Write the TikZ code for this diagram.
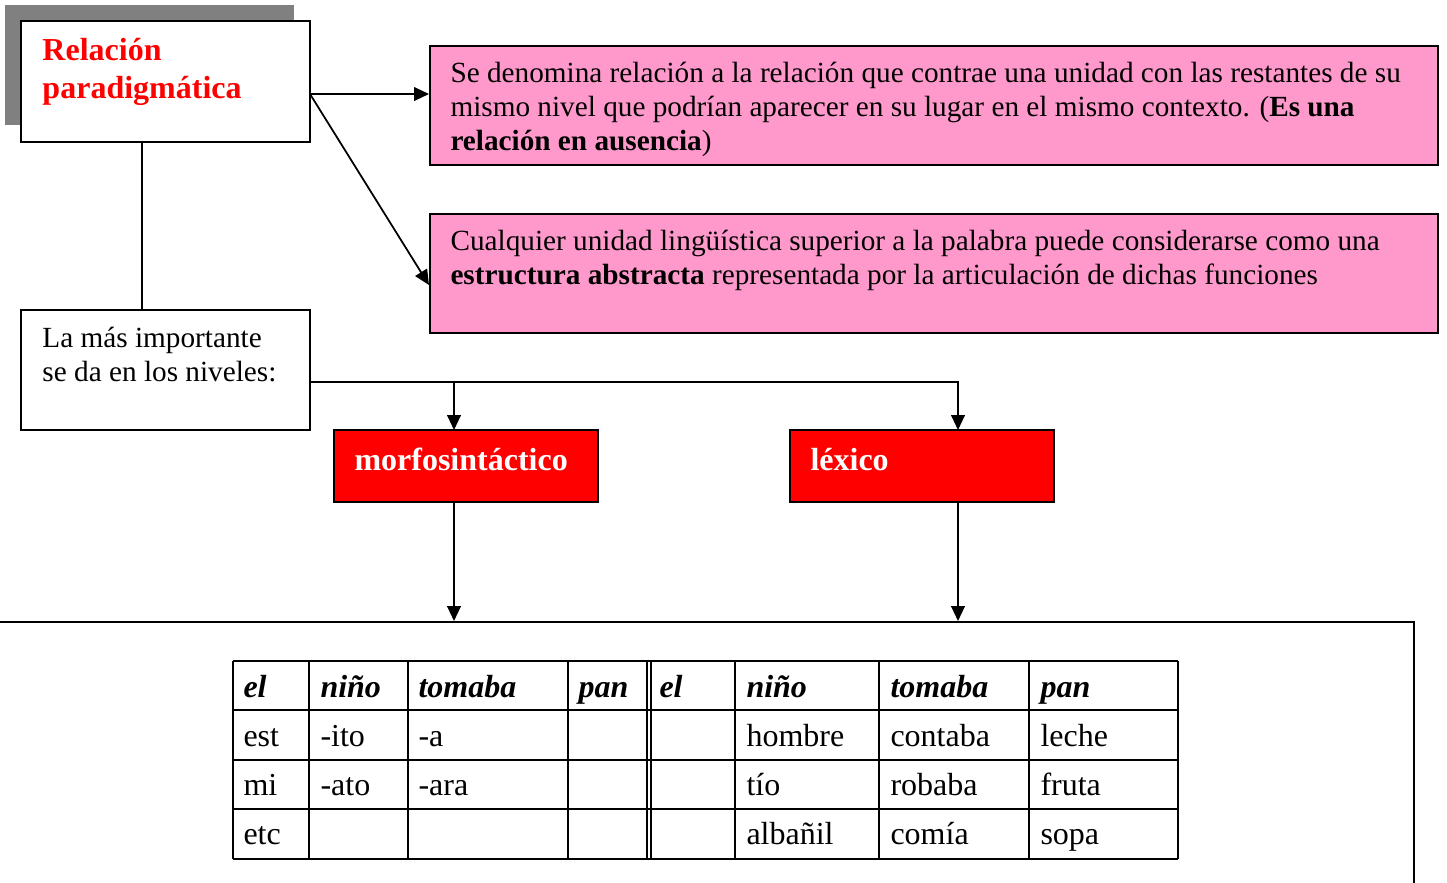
\documentclass[tikz,border=0pt]{standalone}
\usepackage{fontspec}
\setmainfont{Liberation Serif}
\usetikzlibrary{arrows.meta,fit,calc}
\definecolor{pinkbox}{HTML}{FF99CC}
\definecolor{redbox}{HTML}{FF0000}
\definecolor{shadowgray}{HTML}{808080}
\begin{document}
\begin{tikzpicture}[x=0.4pt,y=-0.4pt,
  box/.style={draw=black, line width=0.8pt, inner sep=0pt},
  conn/.style={line width=0.7pt},
  arr/.style={conn,-{Triangle[length=6pt,width=5.5pt]}},
  txt/.style={anchor=base west, inner sep=0pt, align=left, font=\fontsize{11.7}{13.6}\selectfont},
  titletxt/.style={anchor=base west, inner sep=0pt, align=left, text=redbox, font=\fontsize{12.8}{15.2}\selectfont\bfseries},
  lvltxt/.style={anchor=base west, inner sep=0pt, text=white, font=\fontsize{12.8}{15}\selectfont\bfseries},
  cell/.style={anchor=base west, inner sep=0pt, font=\fontsize{12.8}{15}\selectfont},
  headcell/.style={cell, font=\fontsize{12.8}{15}\selectfont\bfseries\itshape},
  tline/.style={line width=0.8pt}]
\useasboundingbox (0,0) rectangle (1447,882);

% shadow and title box
\node[fill=shadowgray, inner sep=0pt, fit={(5,5) (294,125)}] (shadow) {};
\node[box, fill=white, fit={(21,21) (310,142)}] (title) {};
% anchor base west of a multi-line node = last line's baseline
\node[titletxt] (titlet) at (42,98) {Relación\\paradigmática};

% definition boxes
\node[box, fill=pinkbox, fit={(430,46) (1438,165)}] (def1) {};
\node[txt] (def1t) at (450,150) {Se denomina relación a la relación que contrae una unidad con las restantes de su\\mismo nivel que podrían aparecer en su lugar en el mismo contexto. (\textbf{Es una}\\\textbf{relación en ausencia})};
\node[box, fill=pinkbox, fit={(430,214) (1438,333)}] (def2) {};
\node[txt] (def2t) at (450,284) {Cualquier unidad lingüística superior a la palabra puede considerarse como una\\\textbf{estructura abstracta} representada por la articulación de dichas funciones};

% levels box
\node[box, fill=white, fit={(21,310) (310,430)}] (lvl) {};
\node[txt] (lvlt) at (42,381) {La más importante\\se da en los niveles:};

% red boxes
\node[box, fill=redbox, fit={(334,430) (598,502)}] (morfo) {};
\node[lvltxt] (morfot) at (354,470) {morfosintáctico};
\node[box, fill=redbox, fit={(790,430) (1054,502)}] (lex) {};
\node[lvltxt] (lext) at (810,470) {léxico};

% frame
\node[box, fit={(-20,622) (1414,900)}] (frame) {};

% connectors
\coordinate (o) at (310,94);
\draw[arr] (o) -- (o -| def1.west);
\draw[arr] (o) -- ([yshift=-4.6pt]def2.west);
\draw[conn] ([xshift=-9.4pt]title.south) -- ([xshift=-9.4pt]lvl.north);
\coordinate (lo) at (310,382);
\coordinate (mtop) at (454,430);
\coordinate (ltop) at (958,430);
\draw[arr] (lo) -| (mtop);
\draw[arr] (lo) -| (ltop);
\coordinate (mbot) at (454,502);
\coordinate (lbot) at (958,502);
\draw[arr] (mbot) -- (mbot |- frame.north);
\draw[arr] (lbot) -- (lbot |- frame.north);

% table
\foreach \y in {661,710,760,809,859} \draw[tline] (233,\y) -- (1178,\y);
\foreach \x in {233,309,408,568,647,651,735,879,1029,1178} \draw[tline] (\x,661) -- (\x,859);

\node[headcell] (h1) at (243,697) {el};
\node[headcell] (h2) at (320,697) {niño};
\node[headcell] (h3) at (418,697) {tomaba};
\node[headcell] (h4) at (578,697) {pan};
\node[headcell] (h5) at (659,697) {el};
\node[headcell] (h6) at (746,697) {niño};
\node[headcell] (h7) at (890,697) {tomaba};
\node[headcell] (h8) at (1040,697) {pan};

\node[cell] (c11) at (243,746) {est};
\node[cell] (c12) at (320,746) {-ito};
\node[cell] (c13) at (418,746) {-a};
\node[cell] (c16) at (746,746) {hombre};
\node[cell] (c17) at (890,746) {contaba};
\node[cell] (c18) at (1040,746) {leche};

\node[cell] (c21) at (243,795) {mi};
\node[cell] (c22) at (320,795) {-ato};
\node[cell] (c23) at (418,795) {-ara};
\node[cell] (c26) at (746,795) {tío};
\node[cell] (c27) at (890,795) {robaba};
\node[cell] (c28) at (1040,795) {fruta};

\node[cell] (c31) at (243,844) {etc};
\node[cell] (c36) at (746,844) {albañil};
\node[cell] (c37) at (890,844) {comía};
\node[cell] (c38) at (1040,844) {sopa};
\end{tikzpicture}
\end{document}
